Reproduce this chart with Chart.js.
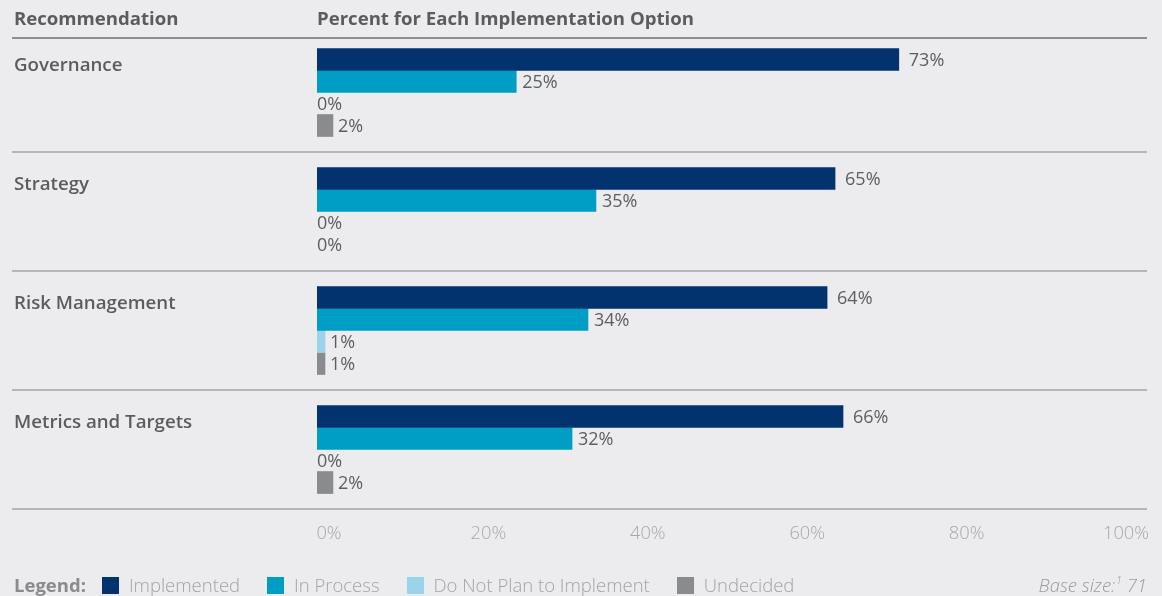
<!DOCTYPE html>
<html>
<head>
<meta charset="utf-8">
<script src="https://cdn.jsdelivr.net/npm/chart.js@4.4.1/dist/chart.umd.min.js"></script>
<style>
  html, body { margin: 0; padding: 0; background: #ececee; }
  body { width: 1162px; height: 596px; position: relative; overflow: hidden; font-family: "Open Sans", sans-serif; }
  #wrap { position: absolute; left: 0; top: 0; width: 1162px; height: 575px; }
  .hdr { position: absolute; top: 8px; font-size: 18.6px; line-height: 20px; font-weight: 700; color: #5b5c5e; white-space: nowrap; }
  #hdrline { position: absolute; left: 12px; width: 1135px; top: 37px; height: 2px; background: #8e8e90; }
  #legend { position: absolute; left: 14px; top: 575px; height: 20px; display: flex; align-items: center; font-size: 18.5px; line-height: 20px; color: #a4a4a6; font-weight: 300; white-space: nowrap; }
  #legend .lt { font-weight: 700; color: #8a8b8d; margin-right: 16px; }
  #legend .sw { width: 17px; height: 17px; margin-right: 10px; }
  #legend .it { display: flex; align-items: center; margin-right: 27px; }
  #base { position: absolute; right: 15px; top: 575px; font-size: 18.5px; line-height: 20px; font-style: italic; font-weight: 300; color: #9c9c9e; white-space: nowrap; }
  #base sup { font-size: 10px; line-height: 0; position: relative; top: -1px; vertical-align: super; margin-left: 1px; }
</style>
</head>
<body>
<div id="wrap"><canvas id="c"></canvas></div>
<div class="hdr" style="left:14px">Recommendation</div>
<div class="hdr" style="left:317px">Percent for Each Implementation Option</div>
<div id="hdrline"></div>
<div id="legend"><span class="lt">Legend:</span></div>
<div id="base">Base size:<sup>1</sup> 71</div>
<script>
// ---- data ----
const categories = ["Governance", "Strategy", "Risk Management", "Metrics and Targets"];
const seriesNames = ["Implemented", "In Process", "Do Not Plan to Implement", "Undecided"];
const implemented = [73, 65, 64, 66];
const inProcess = [25, 35, 34, 32];
const doNotPlan = [0, 0, 1, 0];
const undecided = [2, 0, 1, 2];
const xTickValues = [0, 20, 40, 60, 80, 100];

// ---- styles ----
const seriesColors = ["#03336f", "#009dc5", "#9bd4ea", "#898b8f"];
const labelGaps = [10, 6, 5, 5];

const seriesValues = [implemented, inProcess, doNotPlan, undecided];

// legend (HTML)
const legendEl = document.getElementById('legend');
seriesNames.forEach((n, i) => {
  const it = document.createElement('span');
  it.className = 'it';
  const sw = document.createElement('span');
  sw.className = 'sw';
  sw.style.background = seriesColors[i];
  const tx = document.createElement('span');
  tx.textContent = n;
  it.appendChild(sw); it.appendChild(tx);
  legendEl.appendChild(it);
});

const separatorPlugin = {
  id: 'separators',
  beforeDatasetsDraw(chart) {
    const ys = chart.scales.y;
    const ctx = chart.ctx;
    const n = categories.length;
    const half = (ys.getPixelForValue(1) - ys.getPixelForValue(0)) / 2;
    ctx.save();
    ctx.strokeStyle = '#b6b6b8';
    ctx.lineWidth = 2;
    for (let i = 1; i <= n; i++) {
      const py = Math.round(ys.getPixelForValue(i - 1) + half);
      ctx.beginPath();
      ctx.moveTo(12, py);
      ctx.lineTo(chart.width - 15, py);
      ctx.stroke();
    }
    ctx.restore();
  }
};

const valueLabelPlugin = {
  id: 'valueLabels',
  afterDatasetsDraw(chart) {
    const ctx = chart.ctx;
    ctx.save();
    ctx.font = '400 18px "Open Sans"';
    ctx.fillStyle = '#5d5e60';
    ctx.textAlign = 'left';
    ctx.textBaseline = 'middle';
    chart.data.datasets.forEach((ds, di) => {
      const meta = chart.getDatasetMeta(di);
      meta.data.forEach((bar, i) => {
        const v = ds.data[i];
        const x = v > 0 ? bar.x + labelGaps[di] : bar.base;
        ctx.fillText(v + '%', x, bar.y + 1);
      });
    });
    ctx.restore();
  }
};

new Chart(document.getElementById('c'), {
  type: 'bar',
  data: {
    labels: categories,
    datasets: seriesNames.map((name, i) => ({
      label: name,
      data: seriesValues[i],
      backgroundColor: ctx => ctx.raw === 0 ? 'rgba(0,0,0,0)' : seriesColors[i],
      inflateAmount: ctx => ctx.raw === 0 ? 0 : 'auto',
      borderWidth: 0,
      barThickness: 22
    }))
  },
  options: {
    indexAxis: 'y',
    responsive: true,
    maintainAspectRatio: false,
    animation: false,
    layout: { padding: { left: 14, top: 33, right: 48, bottom: 16 } },
    plugins: { legend: { display: false }, tooltip: { enabled: false } },
    scales: {
      x: {
        min: 0, max: 100,
        afterBuildTicks(scale) { scale.ticks = xTickValues.map(v => ({ value: v })); },
        grid: { display: false, drawTicks: false },
        border: { display: false },
        ticks: {
          callback: v => v + '%',
          padding: 14,
          labelOffset: 12,
          color: '#a8a8aa',
          font: { family: '"Open Sans"', size: 18.3, weight: 300 },
          maxRotation: 0
        }
      },
      y: {
        grid: { display: false, drawTicks: false },
        border: { display: false },
        afterFit(scale) { scale.width = 303; },
        ticks: {
          crossAlign: 'far',
          padding: 0,
          labelOffset: -27,
          color: '#5b5c5e',
          font: { family: '"Open Sans"', size: 18.7, weight: 600 }
        }
      }
    }
  },
  plugins: [separatorPlugin, valueLabelPlugin]
});
</script>
</body>
</html>
